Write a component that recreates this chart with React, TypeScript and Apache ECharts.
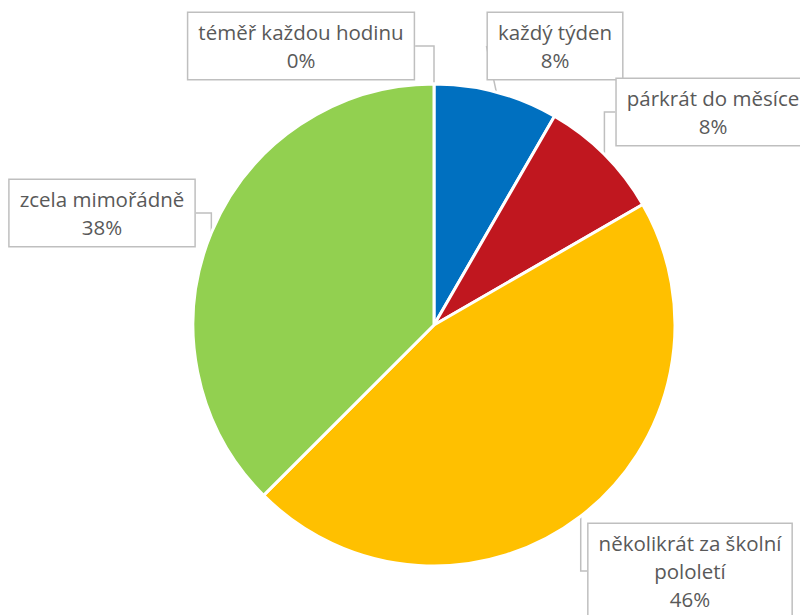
import React, { useEffect, useRef } from 'react';
import * as echarts from 'echarts';

const categories = [
  'téměř každou hodinu',
  'každý týden',
  'párkrát do měsíce',
  'několikrát za školní pololetí',
  'zcela mimořádně',
];
const values = [0, 2, 2, 11, 9];
const colors = ['#A5A5A5', '#0070C0', '#C0171F', '#FFC000', '#92D050'];

// callout layout (box centres, in data order)
const calloutCenters: number[][] = [
  [301, 46],
  [555, 46],
  [713, 112],
  [690, 571],
  [102, 213],
];
const WRAP_CHARS = 22;

function wrapName(name: string): string {
  if (name.length <= WRAP_CHARS) return name;
  const cut = name.lastIndexOf(' ', WRAP_CHARS);
  return cut > 0 ? name.slice(0, cut) + '\n' + name.slice(cut + 1) : name;
}

export default function App() {
  const ref = useRef<HTMLDivElement>(null);
  useEffect(() => {
    document.body.style.margin = '0';
    if (!ref.current) return;
    const chart = echarts.init(ref.current, undefined, { renderer: 'svg' });
    chart.setOption({
      animation: false,
      backgroundColor: '#FFFFFF',
      series: [
        {
          type: 'pie',
          center: [434, 325],
          radius: 241,
          startAngle: 90,
          clockwise: true,
          avoidLabelOverlap: false,
          percentPrecision: 0,
          itemStyle: { borderColor: '#FFFFFF', borderWidth: 3 },
          emphasis: { disabled: true },
          label: {
            show: true,
            formatter: (p: any) => wrapName(p.name) + '\n' + p.percent + '%',
            color: '#595959',
            fontFamily: 'Open Sans',
            fontSize: 20.5,
            lineHeight: 28,
            align: 'center',
            backgroundColor: '#FFFFFF',
            borderColor: '#BFBFBF',
            borderWidth: 1.5,
            padding: [5, 10],
          },
          labelLine: {
            show: true,
            lineStyle: { color: '#BFBFBF', width: 1.5 },
          },
          labelLayout: (params: any) => {
            const c = calloutCenters[params.dataIndex];
            return { x: c[0], y: c[1], align: 'center', verticalAlign: 'middle' };
          },
          data: categories.map((name, i) => ({
            name,
            value: values[i],
            itemStyle: { color: colors[i] },
          })),
        },
      ],
    });
    return () => chart.dispose();
  }, []);
  return <div ref={ref} style={{ width: 800, height: 615 }} />;
}
